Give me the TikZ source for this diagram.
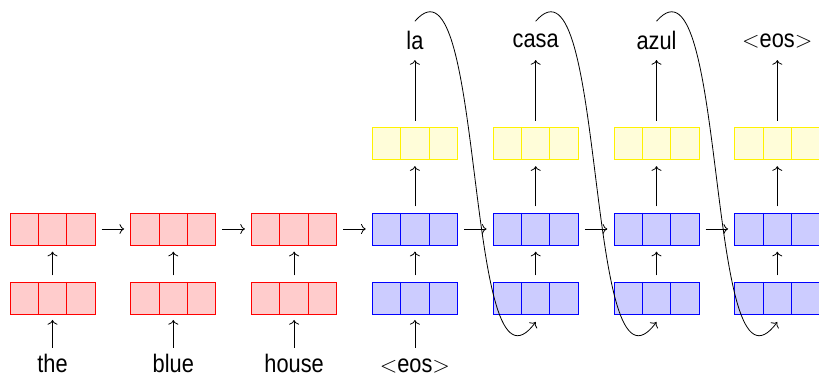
\documentclass[tikz,border=0pt]{standalone}
\usepackage{fontspec}
\setmainfont[FakeStretch=0.86]{Liberation Sans}
\usetikzlibrary{arrows.meta,calc}
\begin{document}
\begin{tikzpicture}[x=0.75pt,y=-0.75pt,
  cellbox/.style={draw, line width=0.7pt, minimum width=63.75pt, minimum height=24pt, inner sep=0pt, outer sep=0pt},
  encbox/.style={cellbox, draw=red, fill=red!20},
  decbox/.style={cellbox, draw=blue, fill=blue!20},
  outbox/.style={cellbox, draw=yellow, fill=yellow!15},
  word/.style={font=\fontsize{19}{22}\selectfont, inner sep=0pt, minimum height=21pt},
  srcword/.style={font=\fontsize{19}{22}\selectfont, inner sep=0pt, text height=13.5pt, text depth=0pt, anchor=base},
  tip/.style={-{To[length=3.5pt,width=7.5pt]}, line width=0.6pt},
  link/.style={tip, shorten <=5pt, shorten >=5pt},
  inlink/.style={tip, shorten <=5.25pt, shorten >=4.5pt},
  outlink/.style={tip, shorten <=5pt, shorten >=4pt},
  feedback/.style={tip}
]
\useasboundingbox (0,0) rectangle (819,377);

% encoder: embedding row and hidden row
\foreach \i/\x in {0/52.5,1/173.3,2/294.1} {
  \node[encbox] (in\i) at (\x,298) {};
  \node[encbox] (hid\i) at (\x,229) {};
}
% decoder: embedding row, hidden row and output row
\foreach \i/\x in {3/414.9,4/535.7,5/656.5,6/777.3} {
  \node[decbox] (in\i) at (\x,298) {};
  \node[decbox] (hid\i) at (\x,229) {};
  \node[outbox] (out\i) at (\x,143.5) {};
}

% three cells per vector
\foreach \n/\c in {in0/red,hid0/red,in1/red,hid1/red,in2/red,hid2/red,
                   in3/blue,hid3/blue,in4/blue,hid4/blue,in5/blue,hid5/blue,in6/blue,hid6/blue,
                   out3/yellow,out4/yellow,out5/yellow,out6/yellow} {
  \foreach \f in {1/3,2/3}
    \draw[\c, line width=0.7pt] ($(\n.north west)!\f!(\n.north east)$) -- ($(\n.south west)!\f!(\n.south east)$);
}

% source words
\node[srcword] (src0) at (52.5,373) {the};
\node[srcword] (src1) at (173.3,373) {blue};
\node[srcword] (src2) at (294.1,373) {house};
\node[srcword] (src3) at (414.9,373) {$<$eos$>$};

% target words
\node[word] (tgt3) at (414.9,40.5) {la};
\node[word] (tgt4) at (535.7,40.5) {casa};
\node[word] (tgt5) at (656.5,40.5) {azul};
\node[word] (tgt6) at (777.3,40.5) {$<$eos$>$};

% inputs into the embeddings
\foreach \i in {0,1,2,3}
  \draw[inlink] (src\i.north) -- (in\i.south);

% embedding to hidden state
\foreach \i in {0,...,6}
  \draw[link] (in\i.north) -- (hid\i.south);

% recurrence along the hidden row
\foreach \a/\b in {0/1,1/2,2/3,3/4,4/5,5/6}
  \draw[link] (hid\a.east) -- (hid\b.west);

% hidden state to output and predicted word
\foreach \i in {3,4,5,6} {
  \draw[link] (hid\i.north) -- (out\i.south);
  \draw[outlink] (out\i.north) -- (tgt\i.south);
}

% each predicted word is fed back as the next input
\foreach \a/\b in {3/4,4/5,5/6}
  \draw[feedback] ($(tgt\a.north)+(0,-5)$) .. controls +(71,-82) and +(-72,98) .. ($(in\b.south)+(0,8)$);
\end{tikzpicture}
\end{document}
